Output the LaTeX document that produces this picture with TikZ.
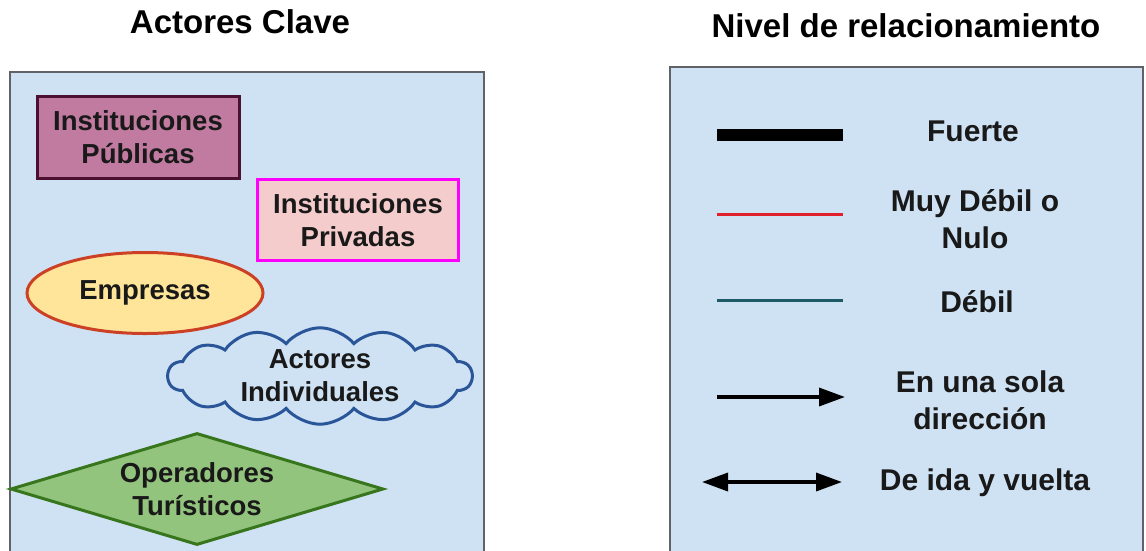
\documentclass[tikz,border=0pt]{standalone}
\usepackage{fontspec}
\setmainfont{Liberation Sans}
\usetikzlibrary{shapes.geometric,shapes.symbols,arrows.meta}
\definecolor{panelfill}{HTML}{CFE2F3}
\definecolor{panelline}{HTML}{5F6368}
\definecolor{pubfill}{HTML}{C27BA0}
\definecolor{publine}{HTML}{4C1130}
\definecolor{privfill}{HTML}{F4CCCC}
\definecolor{privline}{HTML}{FF00FF}
\definecolor{empfill}{HTML}{FFE599}
\definecolor{empline}{HTML}{CC4125}
\definecolor{cloudline}{HTML}{2A5699}
\definecolor{opfill}{HTML}{93C47D}
\definecolor{opline}{HTML}{38761D}
\definecolor{weakred}{HTML}{E0202A}
\definecolor{weakteal}{HTML}{1D5A66}
\tikzset{
  title/.style={font=\bfseries\fontsize{33}{38}\selectfont, anchor=base},
  actor/.style={font=\bfseries\fontsize{27.5}{33}\selectfont, align=center, text=black!90, line width=3pt},
  legendtext/.style={font=\bfseries\fontsize{30}{37}\selectfont, align=center, text=black!90},
  panel/.style={fill=panelfill, draw=panelline, line width=1.5pt},
  legendtip/.tip={Triangle[length=26pt,width=18pt]}
}
\begin{document}
\begin{tikzpicture}[x=1pt,y=-1pt]
        \useasboundingbox (0,0) rectangle (1146,550);
        \fill [white] (0,0) rectangle (1146,550);
        % titles
        \node [title] (tactores) at (240,33) {Actores Clave};
        \node [title] (tnivel) at (906,37) {Nivel de relacionamiento};
        % panels
        \draw [panel] (10,72) rectangle (484,556);
        \draw [panel] (670,67) rectangle (1143,556);
        % actors
        \node [actor, draw=publine, fill=pubfill, minimum width=202pt, minimum height=82pt, inner sep=0pt] (publicas) at (138,137) {Instituciones\\Públicas};
        \node [actor, draw=privline, fill=privfill, minimum width=201pt, minimum height=81pt, inner sep=0pt] (privadas) at (358,220) {Instituciones\\Privadas};
        \node [actor, ellipse, draw=empline, fill=empfill, minimum width=236pt, minimum height=81pt, inner sep=0pt] (empresas) at (145,293) {Empresas};
        \node [actor, cloud, cloud puffs=14, cloud puff arc=100, aspect=3.2, draw=cloudline, fill=panelfill, minimum width=304pt, minimum height=95pt, inner sep=0pt] (individuales) at (320,376) {Actores\\Individuales};
        \node [actor, diamond, aspect=3.33, draw=opline, fill=opfill, minimum width=373pt, minimum height=112pt, inner sep=0pt] (operadores) at (197,489) {Operadores\\Turísticos};
        % legend
        \coordinate (fa) at (717,135); \coordinate (fb) at (843,135);
        \coordinate (ra) at (717,214); \coordinate (rb) at (843,214);
        \coordinate (da) at (717,300); \coordinate (db) at (843,300);
        \coordinate (ua) at (717,397); \coordinate (ub) at (845,397);
        \coordinate (ba) at (702,482); \coordinate (bb) at (842,482);
        \draw [line width=12pt, black] (fa) -- (fb);
        \draw [line width=3pt, weakred] (ra) -- (rb);
        \draw [line width=3pt, weakteal] (da) -- (db);
        \draw [line width=3.5pt, -legendtip] (ua) -- (ub);
        \draw [line width=3.5pt, legendtip-legendtip] (ba) -- (bb);
        \node [legendtext] (fuerte) at (973,131) {Fuerte};
        \node [legendtext] (muydebil) at (975,219) {Muy Débil o\\Nulo};
        \node [legendtext] (debil) at (977,302) {Débil};
        \node [legendtext] (unasola) at (980,400) {En una sola\\dirección};
        \node [legendtext] (idavuelta) at (985,483) {De ida y vuelta};
      \end{tikzpicture}
\end{document}
